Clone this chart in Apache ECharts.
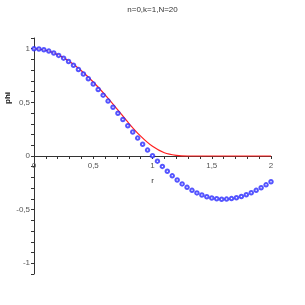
<!DOCTYPE html>
<html><head><meta charset="utf-8">
<script src="https://cdn.jsdelivr.net/npm/echarts@6/dist/echarts.min.js"></script>
<style>html,body{margin:0;padding:0;background:#fff}#c{width:305px;height:305px}</style>
</head><body><div id="c"></div>
<script>
// Blue points (phi, N=20 approximation), r step = 1/24
const blueR = [];
for (let i = 0; i <= 48; i++) blueR.push(i / 24);
const blueY = [1.0, 0.997, 0.99, 0.978, 0.96, 0.938, 0.912, 0.881, 0.846, 0.807, 0.765, 0.72, 0.671, 0.62, 0.567, 0.512, 0.455, 0.398, 0.34, 0.282, 0.224, 0.167, 0.11, 0.055, 0.002, -0.048, -0.097, -0.142, -0.185, -0.224, -0.26, -0.292, -0.32, -0.344, -0.364, -0.38, -0.392, -0.399, -0.403, -0.402, -0.397, -0.389, -0.377, -0.361, -0.342, -0.32, -0.296, -0.269, -0.24];
// Red curve
const redR = [0, 0.1, 0.2, 0.3, 0.4, 0.5, 0.6, 0.7, 0.8, 0.9, 1.0, 1.1, 1.2, 1.3, 1.4, 1.6, 1.8, 2.0];
const redY = [1.0, 0.986, 0.945, 0.88, 0.795, 0.69, 0.57, 0.44, 0.305, 0.185, 0.09, 0.03, 0.006, 0.0, 0.0, 0.0, 0.0, 0.0];
const titleText = 'n=0,k=1,N=20';
const xName = 'r';
const yName = 'phi';

function fmt(v) {
  const t = Math.round(v * 10);
  if (t % 5 !== 0) return '';
  return String(t / 10).replace('.', ',');
}
const chart = echarts.init(document.getElementById('c'), null, {renderer: 'canvas'});
const font = 'Liberation Sans';
chart.setOption({
  animation: false,
  title: {text: titleText, left: 'center', top: 1, textStyle: {fontSize: 8, fontWeight: 'normal', color: '#333', fontFamily: font}},
  grid: {left: 34, right: 34, top: 38, bottom: 31, containLabel: false},
  xAxis: {
    type: 'value', min: 0, max: 2, interval: 0.1, position: 'bottom', offset: -118,
    name: xName, nameLocation: 'middle', nameGap: 21,
    nameTextStyle: {fontSize: 8, color: '#333', fontFamily: font},
    axisLine: {onZero: false, lineStyle: {color: '#333', width: 1}},
    axisTick: {show: true, length: 3, lineStyle: {color: '#333'}},
    axisLabel: {interval: 0, formatter: fmt, fontSize: 8, color: '#555', margin: 6, fontFamily: font},
    splitLine: {show: false}
  },
  yAxis: {
    type: 'value', min: -1.1, max: 1.1, interval: 0.1,
    axisLine: {onZero: false, lineStyle: {color: '#333', width: 1}},
    axisTick: {show: true, length: 3, lineStyle: {color: '#333'}},
    axisLabel: {interval: 0, formatter: fmt, fontSize: 8, color: '#555', margin: 4, fontFamily: font},
    splitLine: {show: false}
  },
  graphic: [{
    type: 'text', left: 4, top: 92, rotation: Math.PI / 2,
    style: {text: yName, fontSize: 8, fontWeight: 'bold', fill: '#111', font: 'bold 8px Liberation Sans'}
  }],
  series: [
    {type: 'line', data: redR.map((r, i) => [r, redY[i]]), smooth: 0.3, showSymbol: false,
     lineStyle: {color: '#ff2020', width: 1.2}, z: 2},
    {type: 'scatter', data: blueR.map((r, i) => [r, blueY[i]]), symbol: 'emptyCircle', symbolSize: 3.5,
     itemStyle: {color: '#2a2aff', borderWidth: 1.1}, z: 3}
  ]
});
</script></body></html>
